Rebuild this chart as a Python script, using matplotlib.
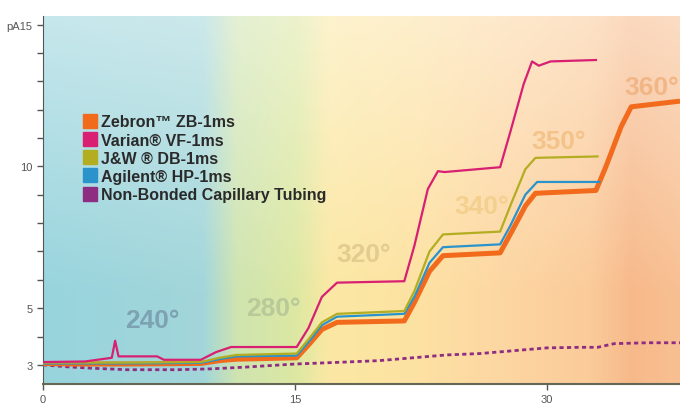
import numpy as np
import matplotlib
matplotlib.use("Agg")
import matplotlib.pyplot as plt
from matplotlib.lines import Line2D
from matplotlib.colors import to_rgb

plt.rcParams['font.family'] = ['Liberation Sans', 'DejaVu Sans']

# --- data (time in min, signal in pA) ---
zb_x = [0, 2, 5, 9.4, 10.5, 11.5, 15.1, 15.8, 16.6, 17.5, 21.5, 22.1, 23.0, 23.8, 27.2, 27.8, 28.7, 29.3, 32.9, 33.5, 34.4, 35.0, 37.9]
zb_y = [3.05, 3.03, 3.03, 3.05, 3.15, 3.2, 3.25, 3.7, 4.25, 4.5, 4.55, 5.2, 6.3, 6.85, 6.95, 7.6, 8.6, 9.05, 9.15, 10.0, 11.4, 12.1, 12.3]

vf_x = [0, 2.5, 4.1, 4.3, 4.5, 6.8, 7.2, 9.4, 10.3, 11.2, 15.1, 15.8, 16.6, 17.5, 21.5, 22.1, 22.9, 23.5, 23.9, 27.2, 27.8, 28.6, 29.1, 29.5, 30.2, 32.9]
vf_y = [3.1, 3.12, 3.25, 3.85, 3.3, 3.3, 3.18, 3.18, 3.45, 3.63, 3.63, 4.3, 5.4, 5.9, 5.95, 7.2, 9.2, 9.83, 9.8, 9.97, 11.2, 12.9, 13.7, 13.55, 13.7, 13.75]

db_x = [0, 5, 9.4, 10.5, 11.5, 15.1, 15.8, 16.6, 17.5, 21.5, 22.1, 23.0, 23.8, 27.2, 27.8, 28.7, 29.3, 33.0]
db_y = [3.08, 3.08, 3.1, 3.25, 3.35, 3.4, 3.9, 4.5, 4.8, 4.9, 5.6, 7.0, 7.6, 7.7, 8.6, 9.9, 10.3, 10.35]

hp_x = [0, 5, 9.4, 10.5, 11.5, 15.1, 15.8, 16.6, 17.5, 21.5, 22.1, 23.0, 23.8, 27.2, 27.8, 28.7, 29.4, 33.1]
hp_y = [3.05, 3.05, 3.07, 3.2, 3.3, 3.33, 3.8, 4.4, 4.7, 4.8, 5.4, 6.6, 7.15, 7.25, 7.9, 9.0, 9.45, 9.45]

nb_x = [0, 1.5, 3, 5, 8, 10, 12, 15, 18, 20, 22, 24, 26, 28, 30, 32, 33, 34, 36, 37.9]
nb_y = [3.0, 2.93, 2.88, 2.83, 2.83, 2.86, 2.92, 3.03, 3.1, 3.15, 3.25, 3.35, 3.4, 3.5, 3.6, 3.62, 3.62, 3.75, 3.78, 3.78]

labels = ["Zebron\u2122 ZB-1ms", "Varian\u00ae VF-1ms", "J&W \u00ae DB-1ms",
          "Agilent\u00ae HP-1ms", "Non-Bonded Capillary Tubing"]
colors = ["#f26a1c", "#d81f72", "#b3ad22", "#2b93cc", "#8e2c82"]

temps = ["240\u00b0", "280\u00b0", "320\u00b0", "340\u00b0", "350\u00b0", "360\u00b0"]
temp_x = [6.5, 13.7, 19.1, 26.1, 30.7, 36.2]
temp_y = [4.6, 5.0, 6.9, 8.6, 10.9, 12.8]
temp_colors = ["#7da3b2", "#b9c99a", "#e3cd8e", "#f3d08e", "#f3c38a", "#f2b686"]

xmin, xmax = 0, 37.9
ymin, ymax = 2.33, 15.3

fig = plt.figure(figsize=(6.8, 4.06), dpi=100)
ax = fig.add_axes([0.063, 0.052, 0.937, 0.906])

# background colour bands (gradient)
stops_x = [0, 9.5, 11.5, 15, 17, 22, 27, 32.5, 35, 37.9]
stops_c = ["#98d4dd", "#a2d6da", "#cfe4b0", "#dce8a2", "#fbe8a4", "#fde2a2",
           "#fdd7a2", "#fbcb9a", "#f7b98a", "#f8c092"]
gx = np.linspace(xmin, xmax, 400)
rgb = np.array([to_rgb(c) for c in stops_c])
row = np.stack([np.interp(gx, stops_x, rgb[:, k]) for k in range(3)], axis=1)
gy = np.linspace(0, 1, 200)[:, None, None]  # 0 bottom -> 1 top
w = 0.45 * np.clip((gy - 0.25) / 0.75, 0, 1)
img = row[None, :, :] * (1 - w) + w
ax.imshow(img, extent=[xmin, xmax, ymin, ymax], origin="lower", aspect="auto", zorder=0)

ax.plot(nb_x, nb_y, color=colors[4], lw=2, ls=(0, (1.5, 1.2)), zorder=2)
ax.plot(zb_x, zb_y, color=colors[0], lw=3.6, zorder=3, solid_capstyle="butt")
ax.plot(hp_x, hp_y, color=colors[3], lw=1.6, zorder=4)
ax.plot(db_x, db_y, color=colors[2], lw=1.6, zorder=5)
ax.plot(vf_x, vf_y, color=colors[1], lw=1.6, zorder=6)

for t, tx, ty, tc in zip(temps, temp_x, temp_y, temp_colors):
    ax.text(tx, ty, t, color=tc, fontsize=19, fontweight="bold",
            ha="center", va="center", zorder=1)

handles = [Line2D([], [], marker="s", ls="none", markersize=10, color=c) for c in colors]
leg = ax.legend(handles, labels, loc="upper left", bbox_to_anchor=(0.052, 0.75),
                frameon=False, prop={"size": 11.5, "weight": "bold"},
                handletextpad=0.15, labelspacing=0.2,
                handlelength=1.0, borderaxespad=0)
for t in leg.get_texts():
    t.set_color("#2a2a2a")

ax.set_xlim(xmin, xmax)
ax.set_ylim(ymin, ymax)
ax.set_xticks([0, 15, 30])
ax.set_xticklabels(["0", "15", "30"])
ax.set_yticks(range(3, 16))
ax.set_yticklabels(["3", "", "5", "", "", "", "", "10", "", "", "", "", "pA15"])
ax.tick_params(axis="both", labelsize=8, colors="#555555", length=4, width=1)
for s in ["top", "right"]:
    ax.spines[s].set_visible(False)
ax.spines["left"].set_color("#555555")
ax.spines["bottom"].set_color("#666655")
ax.spines["bottom"].set_linewidth(1.5)

fig.savefig("out.png", dpi=100)
